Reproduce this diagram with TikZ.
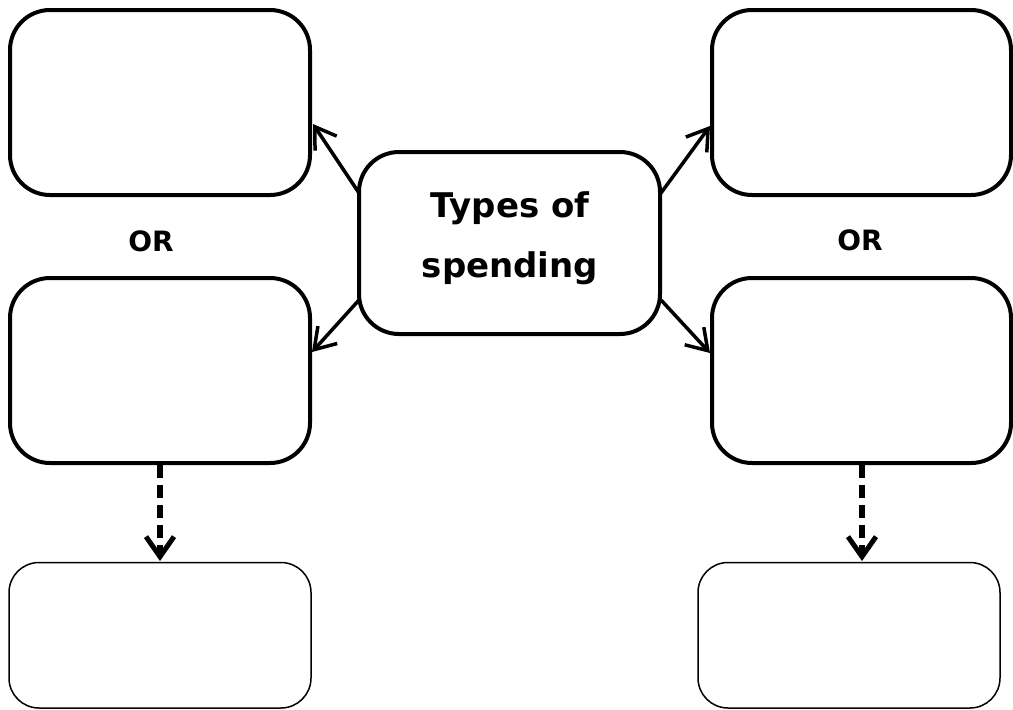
\documentclass[tikz,border=0pt]{standalone}
\usepackage{fontspec}
\setmainfont{DejaVu Sans}
\usetikzlibrary{arrows.meta}
\begin{document}
\begin{tikzpicture}[x=1pt,y=-1pt,
  thickbox/.style={draw,line width=4pt,rounded corners=40pt},
  thinbox/.style={draw,line width=1.5pt,rounded corners=30pt},
  link/.style={line width=3.5pt,-{Straight Barb[length=20pt,width=26pt,line width=3.5pt]}},
  dlink/.style={line width=5.5pt,dash pattern=on 13pt off 7pt,-{Straight Barb[length=20pt,width=28pt,line width=5pt]}},
  lbl/.style={font=\bfseries\fontsize{28}{32}\selectfont}]
\useasboundingbox (0,0) rectangle (1013,710);
\draw[thickbox] (10,10) rectangle (310,195);
\node (tl) at (160,102.5) [minimum width=300pt,minimum height=185pt] {};
\draw[thickbox] (10,278) rectangle (310,463);
\node (ml) at (160,370.5) [minimum width=300pt,minimum height=185pt] {};
\draw[thinbox] (9,562.5) rectangle (311,708);
\node (bl) at (160,635) [minimum width=302pt,minimum height=146pt] {};
\draw[thickbox] (712,10) rectangle (1011,195);
\node (tr) at (861.5,102.5) [minimum width=299pt,minimum height=185pt] {};
\draw[thickbox] (712,278) rectangle (1011,463);
\node (mr) at (861.5,370.5) [minimum width=299pt,minimum height=185pt] {};
\draw[thinbox] (698,562.5) rectangle (1000,708);
\node (br) at (849,635) [minimum width=302pt,minimum height=146pt] {};
\draw[thickbox] (359,152) rectangle (660,334);
\node (c) at (509.5,243) [minimum width=301pt,minimum height=182pt] {};
\node[font=\bfseries\fontsize{34}{60}\selectfont,align=center] (ct) at (510,238) {Types of\\spending};
\node[lbl] (or1) at (151,241.5) {OR};
\node[lbl] (or2) at (860,240) {OR};
\coordinate (a1) at (359,193);
\coordinate (b1) at (313,124);
\coordinate (a2) at (359,300);
\coordinate (b2) at (312,352);
\coordinate (a3) at (661,193);
\coordinate (b3) at (710,126);
\coordinate (a4) at (661,300);
\coordinate (b4) at (710,353);
\draw[link] (a1) -- (b1);
\draw[link] (a2) -- (b2);
\draw[link] (a3) -- (b3);
\draw[link] (a4) -- (b4);
\coordinate (d1) at (160,465);
\coordinate (e1) at (160,561);
\coordinate (d2) at (862,465);
\coordinate (e2) at (862,561);
\draw[dlink] (d1) -- (e1);
\draw[dlink] (d2) -- (e2);
\end{tikzpicture}
\end{document}
